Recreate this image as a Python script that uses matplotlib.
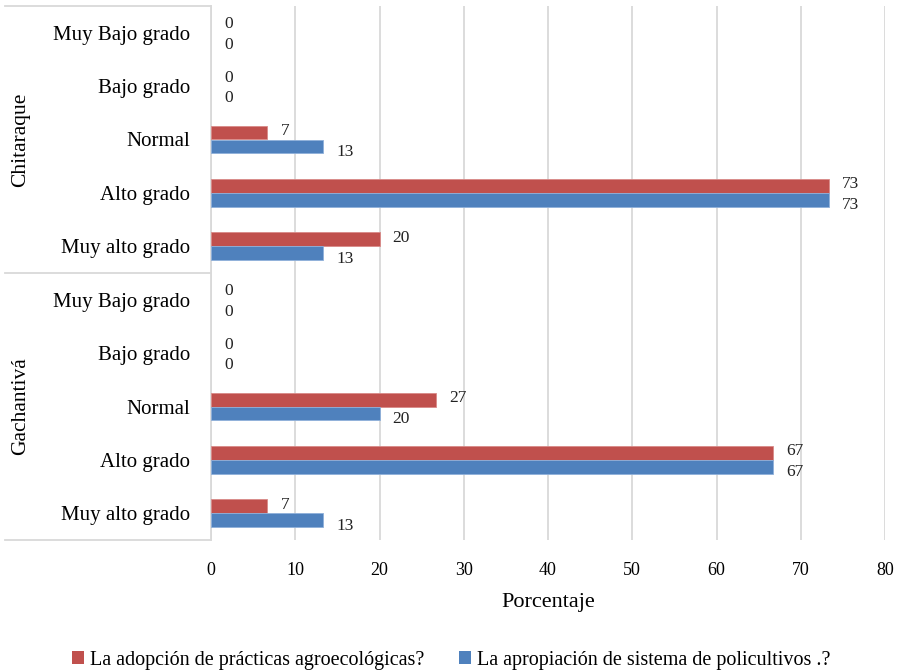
import matplotlib
matplotlib.use("Agg")
import matplotlib.pyplot as plt
import numpy as np

plt.rcParams['font.family'] = ['Liberation Serif', 'DejaVu Serif']

# Survey responses (percent) per municipality and degree level
groups = ["Chitaraque", "Gachantivá"]
levels = ["Muy Bajo grado", "Bajo grado", "Normal", "Alto grado", "Muy alto grado"]
practicas = {
    "Chitaraque": [0, 0, 6.67, 73.33, 20.0],
    "Gachantivá": [0, 0, 26.67, 66.67, 6.67],
}
policultivos = {
    "Chitaraque": [0, 0, 13.33, 73.33, 13.33],
    "Gachantivá": [0, 0, 20.0, 66.67, 13.33],
}
series_names = ["La adopción de prácticas agroecológicas?",
                "La apropiación de sistema de policultivos .?"]
x_ticks = [0, 10, 20, 30, 40, 50, 60, 70, 80]
x_label = "Porcentaje"

red = "#C0504D"
blue = "#4F81BD"
grid_col = "#D9D9D9"

W, H = 903, 672
fig = plt.figure(figsize=(W / 100, H / 100), dpi=100)
left_px, right_px, top_px, bottom_px = 211, 885, 6, 540
ax = fig.add_axes([left_px / W, 1 - bottom_px / H,
                   (right_px - left_px) / W, (bottom_px - top_px) / H])

bar_h = 0.26
red_vals, blue_vals, labels = [], [], []
for g in groups:
    red_vals += practicas[g]
    blue_vals += policultivos[g]
    labels += levels
n = len(labels)
centers = np.arange(n) + 0.5

lw_red = [0.6 if v > 0 else 0 for v in red_vals]
lw_blue = [0.6 if v > 0 else 0 for v in blue_vals]
ax.barh(centers - bar_h / 2, red_vals, height=bar_h, color=red,
        edgecolor="#D98A88", linewidth=lw_red, label=series_names[0], zorder=3)
ax.barh(centers + bar_h / 2, blue_vals, height=bar_h, color=blue,
        edgecolor="#8FB0DA", linewidth=lw_blue, label=series_names[1], zorder=3)

# Value labels just past the end of each bar
for c, rv, bv in zip(centers, red_vals, blue_vals):
    ax.annotate(f"{rv:.0f}", (rv, c - bar_h / 2 - 0.03), xytext=(9.5, 0),
                textcoords="offset points", ha="left", va="center",
                fontsize=12.5, color="#222222")
    ax.annotate(f"{bv:.0f}", (bv, c + bar_h / 2 + 0.1), xytext=(9.5, 0),
                textcoords="offset points", ha="left", va="center",
                fontsize=12.5, color="#222222")

ax.set_xlim(0, 80)
ax.set_ylim(n, 0)
ax.set_xticks(x_ticks)
ax.set_xticklabels([str(t) for t in x_ticks], fontsize=13)
ax.set_yticks(centers)
ax.set_yticklabels(labels, fontsize=15)
ax.tick_params(axis="y", length=0, pad=15)
ax.tick_params(axis="x", length=0, pad=16)
ax.xaxis.grid(True, color=grid_col, linewidth=1.3, zorder=0)
for s in ["top", "right", "bottom"]:
    ax.spines[s].set_visible(False)
ax.spines["left"].set_color(grid_col)
ax.spines["left"].set_linewidth(1.3)
ax.set_xlabel(x_label, fontsize=16, labelpad=10)

# Group brackets on the category axis
trans = ax.get_yaxis_transform()
x0 = (5 - left_px) / (right_px - left_px)
for yb in [0, 5, 10]:
    ax.plot([x0, 0], [yb, yb], color=grid_col, linewidth=1.3,
            transform=trans, clip_on=False)
x_grp = (21 - left_px) / (right_px - left_px)
for i, g in enumerate(groups):
    ax.text(x_grp, i * 5 + 2.5, g, rotation=90, ha="center", va="center",
            fontsize=15.5, transform=trans)

fig.legend(loc="center", bbox_to_anchor=(0.5, 1 - 660 / H), ncol=2,
           frameon=False, fontsize=14.5, handlelength=0.6, handleheight=0.6,
           handletextpad=0.3, columnspacing=1.7)

fig.savefig("out.png", dpi=100)
